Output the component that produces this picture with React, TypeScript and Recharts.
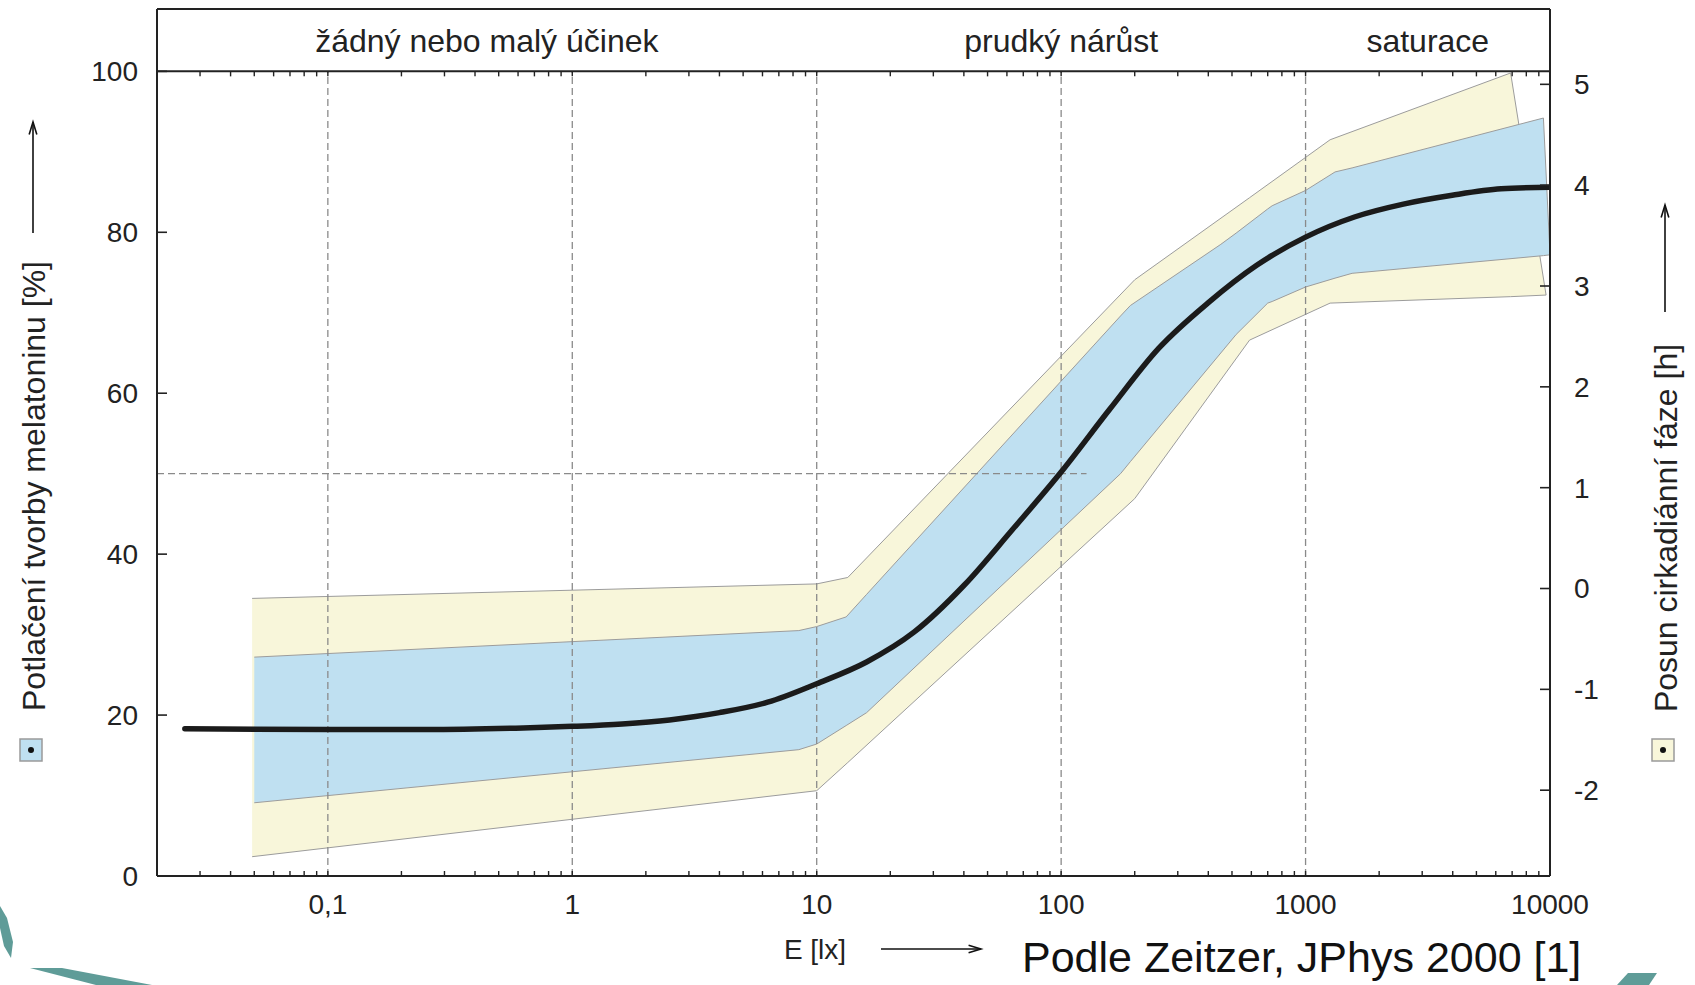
import React from 'react';
import {
  ComposedChart,
  Area,
  Line,
  Scatter,
  XAxis,
  YAxis,
  ReferenceLine,
  ReferenceArea,
} from 'recharts';

const FONT = '"Liberation Sans", Arial, Helvetica, sans-serif';
const INK = '#222222';

// Illuminance axis (lux, logarithmic)
const luxDomain = [0.02, 10000];
const luxTicks = [0.1, 1, 10, 100, 1000, 10000];
const luxTickLabels = ['0,1', '1', '10', '100', '1000', '10000'];
const luxMinorTicks = [
  0.03, 0.04, 0.05, 0.06, 0.07, 0.08, 0.09, 0.1,
  0.2, 0.3, 0.4, 0.5, 0.6, 0.7, 0.8, 0.9, 1,
  2, 3, 4, 5, 6, 7, 8, 9, 10,
  20, 30, 40, 50, 60, 70, 80, 90, 100,
  200, 300, 400, 500, 600, 700, 800, 900, 1000,
  2000, 3000, 4000, 5000, 6000, 7000, 8000, 9000,
];

// Melatonin suppression axis (%) – top of domain leaves room for the zone header
const pctDomain = [0, 107.75];
const pctTicks = [0, 20, 40, 60, 80, 100];

// Circadian phase shift axis (h)
const phaseDomain = [-2.851, 5.747];
const phaseTicks = [-2, -1, 0, 1, 2, 3, 4, 5];

// Zones shown in the header strip
const zoneNames = ['žádný nebo malý účinek', 'prudký nárůst', 'saturace'];
const zoneFrom = [0.02, 10, 1000];
const zoneTo = [10, 1000, 10000];

// Median dose-response curve
const curveLux = [
  0.026, 0.1, 0.25, 0.63, 1, 1.6, 2.5, 4, 6.3, 10, 16, 25, 40, 63, 100,
  158, 251, 398, 631, 1000, 1585, 2512, 3981, 6310, 10000,
];
const curveSuppression = [
  18.3, 18.2, 18.2, 18.4, 18.6, 18.9, 19.4, 20.3, 21.6, 23.9, 26.6, 30.3,
  36.1, 43.0, 50.2, 58.0, 65.6, 71.2, 75.9, 79.4, 81.9, 83.5, 84.6, 85.4, 85.6,
];

// Inner (blue) band
const innerLux = [0.05, 8.45, 10, 13.2, 16, 175, 192, 450, 520, 700, 730, 1000, 1320, 1550, 9400, 10000];
const innerLow = [9.1, 15.7, 16.4, 18.7, 20.3, 50.0, 51.5, 65.0, 67.3, 71.2, 71.4, 73.2, 74.3, 74.9, 77.1, 77.2];
const innerHigh = [27.2, 30.5, 31.0, 32.2, 35.0, 69.6, 70.9, 78.5, 79.9, 82.9, 83.3, 85.2, 87.5, 88.0, 94.2, 77.2];

// Outer (yellow) band
const outerLux = [0.049, 10, 13.4, 200, 590, 1260, 6900, 9640];
const outerLow = [2.4, 10.6, 14.1, 46.9, 66.6, 71.2, 72.0, 72.2];
const outerHigh = [34.5, 36.3, 37.1, 74.1, 84.3, 91.5, 99.8, 72.2];

// Dashed guides
const guideLux = [0.1, 1, 10, 100, 1000];
const halfLevel = 50;
const halfLevelEnd = 127;

const BLUE = '#bfe0f1';
const YELLOW = '#f8f6da';
const BAND_EDGE = '#9c9c9c';
const GUIDE = '#8a8a8a';

const TickUp = (props: any) => {
  const { cx, cy } = props;
  if (cx == null || cy == null) return null;
  return <line x1={cx} x2={cx} y1={cy} y2={cy - 5} stroke={INK} strokeWidth={1.4} />;
};

const TickDown = (props: any) => {
  const { cx, cy } = props;
  if (cx == null || cy == null) return null;
  return <line x1={cx} x2={cx} y1={cy} y2={cy + 5} stroke={INK} strokeWidth={1.4} />;
};

const Arrow = ({ x1, y1, x2, y2 }: { x1: number; y1: number; x2: number; y2: number }) => {
  const ang = Math.atan2(y2 - y1, x2 - x1);
  const len = 13;
  const spread = 0.3;
  const a1x = x2 - len * Math.cos(ang - spread);
  const a1y = y2 - len * Math.sin(ang - spread);
  const a2x = x2 - len * Math.cos(ang + spread);
  const a2y = y2 - len * Math.sin(ang + spread);
  return (
    <g stroke="#111" strokeWidth={1.6} fill="none">
      <line x1={x1} y1={y1} x2={x2} y2={y2} />
      <polyline points={`${a1x},${a1y} ${x2},${y2} ${a2x},${a2y}`} />
    </g>
  );
};

const LegendSwatch = ({ x, y, fill }: { x: number; y: number; fill: string }) => (
  <g>
    <rect x={x} y={y} width={22} height={22} fill={fill} stroke="#9a9a9a" strokeWidth={1.5} />
    <circle cx={x + 11} cy={y + 11} r={3} fill="#111" />
  </g>
);

export default function App() {
  const curveData = curveLux.map((x, i) => ({ x, y: curveSuppression[i] }));
  const innerData = innerLux.map((x, i) => ({ x, band: [innerLow[i], innerHigh[i]] }));
  const outerData = outerLux.map((x, i) => ({ x, band: [outerLow[i], outerHigh[i]] }));
  const bottomTicks = luxMinorTicks.map((x) => ({ x, y: 0 }));
  const topTicks = luxMinorTicks.map((x) => ({ x, y: 100 }));
  const tickStyle = { fontSize: 28, fill: INK, fontFamily: FONT };

  return (
    <div
      style={{
        position: 'absolute',
        left: 0,
        top: 0,
        width: 1695,
        height: 985,
        background: '#ffffff',
        fontFamily: FONT,
        overflow: 'hidden',
      }}
    >
      <ComposedChart width={1695} height={985} margin={{ top: 9, right: 45, bottom: 0, left: 57 }}>
        <XAxis
          type="number"
          dataKey="x"
          scale="log"
          domain={luxDomain}
          allowDataOverflow
          ticks={luxTicks}
          tickFormatter={(v: number) => luxTickLabels[luxTicks.indexOf(v)] ?? String(v)}
          height={109}
          tickSize={0}
          tickMargin={18}
          tickLine={false}
          axisLine={{ stroke: INK, strokeWidth: 2 }}
          tick={tickStyle}
        />
        <YAxis
          yAxisId="pct"
          type="number"
          domain={pctDomain}
          allowDataOverflow
          ticks={pctTicks}
          width={100}
          tickSize={-10}
          tickMargin={29}
          tickLine={{ stroke: INK, strokeWidth: 1.6 }}
          axisLine={{ stroke: INK, strokeWidth: 2 }}
          tick={tickStyle}
        />
        <YAxis
          yAxisId="phase"
          orientation="right"
          type="number"
          domain={phaseDomain}
          allowDataOverflow
          ticks={phaseTicks}
          width={100}
          tickSize={-10}
          tickMargin={34}
          tickLine={{ stroke: INK, strokeWidth: 1.6 }}
          axisLine={{ stroke: INK, strokeWidth: 2 }}
          tick={{ ...tickStyle, textAnchor: 'start' }}
        />

        <Area
          yAxisId="pct"
          data={outerData}
          dataKey="band"
          type="linear"
          fill={YELLOW}
          fillOpacity={1}
          stroke={BAND_EDGE}
          strokeWidth={1}
          dot={false}
          activeDot={false}
          isAnimationActive={false}
        />
        <Area
          yAxisId="pct"
          data={innerData}
          dataKey="band"
          type="linear"
          fill={BLUE}
          fillOpacity={1}
          stroke={BAND_EDGE}
          strokeWidth={1}
          dot={false}
          activeDot={false}
          isAnimationActive={false}
        />

        {guideLux.map((x) => (
          <ReferenceLine
            key={`g${x}`}
            yAxisId="pct"
            segment={[{ x, y: 0 }, { x, y: 100 }]}
            stroke={GUIDE}
            strokeWidth={1.3}
            strokeDasharray="7 4"
          />
        ))}
        <ReferenceLine
          yAxisId="pct"
          segment={[{ x: luxDomain[0], y: halfLevel }, { x: halfLevelEnd, y: halfLevel }]}
          stroke={GUIDE}
          strokeWidth={1.3}
          strokeDasharray="7 4"
        />

        <ReferenceLine yAxisId="pct" y={100} stroke={INK} strokeWidth={2} />
        <ReferenceLine yAxisId="pct" y={pctDomain[1]} stroke={INK} strokeWidth={2} />
        {zoneNames.map((name, i) => (
          <ReferenceArea
            key={name}
            yAxisId="pct"
            x1={zoneFrom[i]}
            x2={zoneTo[i]}
            y1={100}
            y2={pctDomain[1]}
            fill="#ffffff"
            fillOpacity={0}
            stroke="none"
            label={{ value: name, position: 'center', fontSize: 32, fill: INK, fontFamily: FONT }}
          />
        ))}

        <Scatter
          yAxisId="pct"
          data={bottomTicks}
          dataKey="y"
          shape={<TickUp />}
          isAnimationActive={false}
        />
        <Scatter
          yAxisId="pct"
          data={topTicks}
          dataKey="y"
          shape={<TickDown />}
          isAnimationActive={false}
        />

        <Line
          yAxisId="pct"
          data={curveData}
          dataKey="y"
          type="monotone"
          stroke="#1b1b1b"
          strokeWidth={5.5}
          strokeLinecap="round"
          strokeLinejoin="round"
          dot={false}
          activeDot={false}
          isAnimationActive={false}
        />
      </ComposedChart>

      <svg
        width={1695}
        height={985}
        style={{ position: 'absolute', left: 0, top: 0, pointerEvents: 'none' }}
      >
        {/* left axis title */}
        <text
          x={45}
          y={486}
          transform="rotate(-90 45 486)"
          textAnchor="middle"
          fontSize={32}
          fill={INK}
          fontFamily={FONT}
        >
          Potlačení tvorby melatoninu [%]
        </text>
        <Arrow x1={33} y1={233} x2={33} y2={122} />
        <LegendSwatch x={20} y={739} fill={BLUE} />

        {/* right axis title */}
        <text
          x={1677}
          y={528}
          transform="rotate(-90 1677 528)"
          textAnchor="middle"
          fontSize={32}
          fill={INK}
          fontFamily={FONT}
        >
          Posun cirkadiánní fáze [h]
        </text>
        <Arrow x1={1665} y1={312} x2={1665} y2={205} />
        <LegendSwatch x={1652} y={739} fill={YELLOW} />

        {/* x axis title */}
        <text x={815} y={959} textAnchor="middle" fontSize={28} fill={INK} fontFamily={FONT}>
          E [lx]
        </text>
        <Arrow x1={881} y1={949} x2={981} y2={949} />

        {/* source */}
        <text x={1022} y={972} fontSize={43} fill="#111" fontFamily={FONT}>
          Podle Zeitzer, JPhys 2000 [1]
        </text>

        {/* slide ornaments */}
        <polygon points="0,906 7,918 13,942 11,958 4,946 0,928" fill="#5f9c98" />
        <polygon points="30,968 62,968 152,985 96,985" fill="#5f9c98" />
        <polygon points="1628,973 1657,973 1649,985 1617,985" fill="#5f9c98" />
      </svg>
    </div>
  );
}
